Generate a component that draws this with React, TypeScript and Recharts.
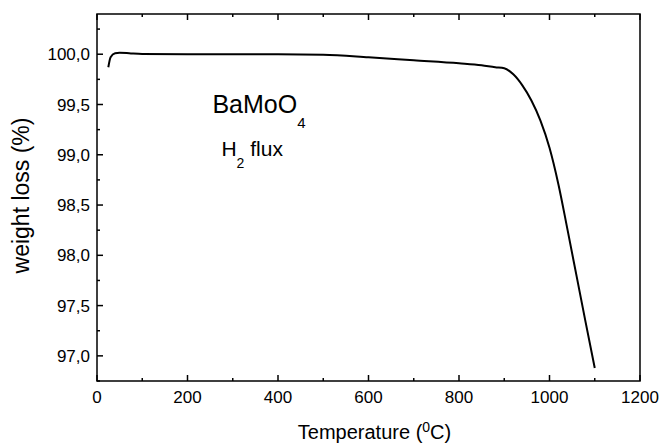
import React from 'react';
import { LineChart, Line, XAxis, YAxis, ReferenceDot, ReferenceArea } from 'recharts';

const temps = [25, 30, 40, 50, 75, 100, 200, 300, 400, 500, 600, 700, 800, 850, 880, 900, 920, 940, 960, 980, 1000, 1020, 1040, 1060, 1080, 1100];
const weights = [99.87, 99.97, 100.01, 100.015, 100.008, 100.003, 100.0, 100.0, 100.0, 99.995, 99.97, 99.94, 99.91, 99.89, 99.87, 99.86, 99.8, 99.69, 99.54, 99.34, 99.07, 98.7, 98.25, 97.79, 97.33, 96.88];

const xMajor = [0, 200, 400, 600, 800, 1000, 1200];
const xMinor = [0, 100, 200, 300, 400, 500, 600, 700, 800, 900, 1000, 1100, 1200];
const yMajor = [97, 97.5, 98, 98.5, 99, 99.5, 100];
const yMinor = [96.75, 97, 97.25, 97.5, 97.75, 98, 98.25, 98.5, 98.75, 99, 99.25, 99.5, 99.75, 100, 100.25];

const xDomain: [number, number] = [0, 1200];
const yDomain: [number, number] = [96.75, 100.4];

const data = temps.map((t, i) => ({ t, w: weights[i] }));

const FONT = '"Liberation Sans", Arial, sans-serif';
const TICK_FONT = 17;

const commaFmt = (v: number) => v.toFixed(1).replace('.', ',');

// ticks point into the plot; labelled values get a longer mark
const BottomTick = (props: any) => {
  const { x, y, payload } = props;
  const major = xMajor.includes(payload.value);
  return (
    <g>
      <line x1={x} y1={y} x2={x} y2={y - (major ? 6 : 3)} stroke="#000" strokeWidth={1.5} />
      {major && (
        <text x={x} y={y + 10} dy="0.71em" textAnchor="middle" fontSize={TICK_FONT} fontFamily={FONT} fill="#000">
          {payload.value}
        </text>
      )}
    </g>
  );
};

const TopTick = (props: any) => {
  const { x, y, payload } = props;
  const major = xMajor.includes(payload.value);
  return <line x1={x} y1={y} x2={x} y2={y + (major ? 6 : 3)} stroke="#000" strokeWidth={1.5} />;
};

const LeftTick = (props: any) => {
  const { x, y, payload } = props;
  const major = yMajor.includes(payload.value);
  return (
    <g>
      <line x1={x} y1={y} x2={x + (major ? 6 : 3)} y2={y} stroke="#000" strokeWidth={1.5} />
      {major && (
        <text x={x - 7} y={y} dy="0.355em" textAnchor="end" fontSize={TICK_FONT} fontFamily={FONT} fill="#000">
          {commaFmt(payload.value)}
        </text>
      )}
    </g>
  );
};

const XLabel = (props: any) => {
  const vb = props.viewBox;
  return (
    <text x={vb.x + vb.width / 2 + 6} y={vb.y + 58} textAnchor="middle" fontSize={20} fontFamily={FONT} fill="#000">
      <tspan>Temperature (</tspan>
      <tspan dy={-7} fontSize={14}>0</tspan>
      <tspan dy={7}>C)</tspan>
    </text>
  );
};

const YLabel = (props: any) => {
  const vb = props.viewBox;
  const cx = vb.x + 29;
  const cy = vb.y + vb.height / 2 - 2;
  return (
    <text x={cx} y={cy} transform={`rotate(-90 ${cx} ${cy})`} textAnchor="middle" fontSize={23} fontFamily={FONT} fill="#000">
      weight loss (%)
    </text>
  );
};

const Compound = (p: any) => (
  <text x={p.cx} y={p.cy} fontSize={25} fontFamily={FONT} fill="#000">
    <tspan>BaMoO</tspan>
    <tspan dy={15} fontSize={15}>4</tspan>
  </text>
);

const Flux = (p: any) => (
  <text x={p.cx} y={p.cy} fontSize={21} fontFamily={FONT} fill="#000">
    <tspan>H</tspan>
    <tspan dy={12} fontSize={14}>2</tspan>
    <tspan dy={-12}> flux</tspan>
  </text>
);

const App: React.FC = () => {
  return (
    <div style={{ position: 'absolute', left: 0, top: 0, background: '#fff' }}>
      <LineChart width={662} height={445} data={data} margin={{ top: 13, right: 22, bottom: 0, left: 0 }}>
        <XAxis
          xAxisId="main"
          dataKey="t"
          type="number"
          domain={xDomain}
          ticks={xMinor}
          interval={0}
          allowDataOverflow
          tickLine={false}
          tickSize={0}
          tickMargin={0}
          height={64}
          axisLine={false}
          tick={<BottomTick />}
          label={<XLabel />}
        />
        <XAxis
          xAxisId="top"
          dataKey="t"
          type="number"
          orientation="top"
          domain={xDomain}
          ticks={xMinor}
          interval={0}
          allowDataOverflow
          tickLine={false}
          tickSize={0}
          tickMargin={0}
          height={1}
          axisLine={false}
          tick={<TopTick />}
        />
        <YAxis
          yAxisId="main"
          type="number"
          domain={yDomain}
          ticks={yMinor}
          interval={0}
          allowDataOverflow
          width={97}
          tickLine={false}
          tickSize={0}
          tickMargin={0}
          axisLine={false}
          tick={<LeftTick />}
          label={<YLabel />}
        />
        <ReferenceArea
          xAxisId="main"
          yAxisId="main"
          x1={xDomain[0]}
          x2={xDomain[1]}
          y1={yDomain[0]}
          y2={yDomain[1]}
          fill="none"
          fillOpacity={0}
          stroke="#000"
          strokeWidth={1.5}
        />
        <ReferenceDot xAxisId="main" yAxisId="main" x={255} y={99.42} r={0} shape={<Compound />} />
        <ReferenceDot xAxisId="main" yAxisId="main" x={275} y={98.99} r={0} shape={<Flux />} />
        <Line
          xAxisId="main"
          yAxisId="main"
          dataKey="w"
          type="monotone"
          stroke="#000"
          strokeWidth={2}
          dot={false}
          isAnimationActive={false}
        />
      </LineChart>
    </div>
  );
};

export default App;
